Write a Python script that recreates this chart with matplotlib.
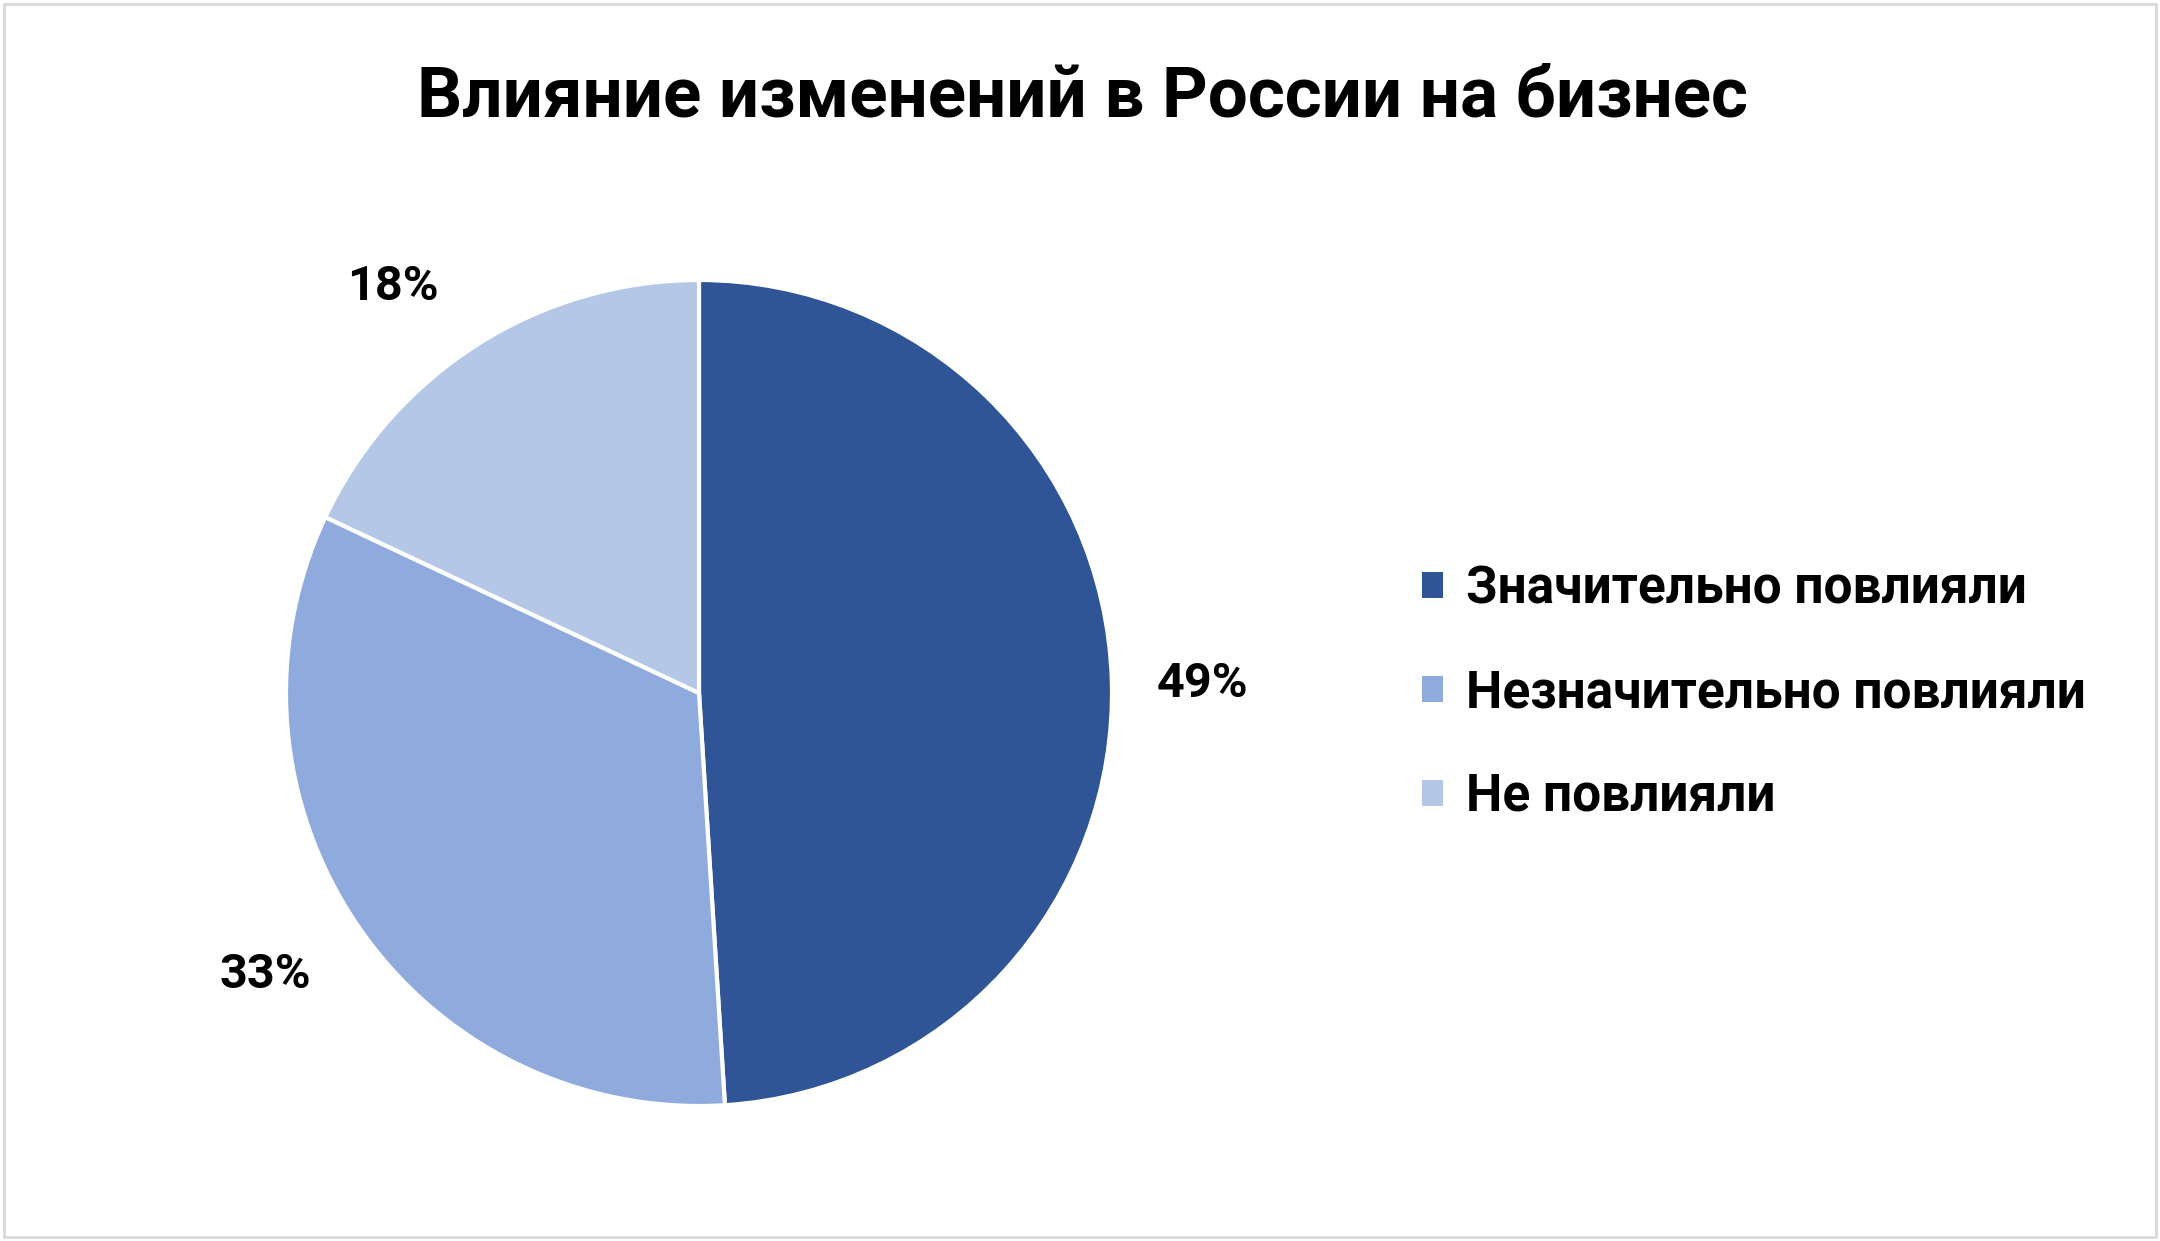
import matplotlib
matplotlib.use("Agg")
import matplotlib.pyplot as plt
from matplotlib.patches import Patch, Rectangle
from matplotlib.transforms import offset_copy

# data
title = "Влияние изменений в России на бизнес"
categories = ["Значительно повлияли", "Незначительно повлияли", "Не повлияли"]
shares = [49, 33, 18]
colors = ["#2F5597", "#8FAADC", "#B4C7E7"]

plt.rcParams['font.family'] = ['Roboto', 'DejaVu Sans']

W, H = 2160, 1241
fig = plt.figure(figsize=(W / 100, H / 100), dpi=100)
fig.patch.set_facecolor("white")

# light grey frame round the chart area
fig.add_artist(Rectangle((0.002, 0.003), 0.996, 0.994, transform=fig.transFigure,
                         facecolor="none", edgecolor="#D9D9D9", linewidth=2))

# pie axes placed in pixels: centre (699, 693 from top), radius 413
cx, cy, r = 699, H - 693, 413
ax = fig.add_axes([(cx - r) / W, (cy - r) / H, 2 * r / W, 2 * r / H])

wedges, texts = ax.pie(shares, colors=colors, startangle=90, counterclock=False,
                       radius=1.0, labels=[f"{v}%" for v in shares],
                       labeldistance=1.23,
                       wedgeprops=dict(edgecolor="white", linewidth=3),
                       textprops=dict(fontsize=35, fontweight="bold", color="black"))
ax.set_xlim(-1, 1)
ax.set_ylim(-1, 1)
ax.set_aspect("equal")
ax.axis("off")

# small nudges (pixels) so labels sit where Excel put them
nudges = [(-4, -7), (-14, 4), (-34, -23)]
for t, (dx, dy) in zip(texts, nudges):
    t.set_horizontalalignment("center")
    t.set_verticalalignment("center")
    t.set_transform(offset_copy(ax.transData, fig=fig, x=dx, y=dy, units="dots"))

fig.text(1082 / W, 1 - 97 / H, title, ha="center", va="center",
         fontsize=51, fontweight="bold", color="black")

handles = [Patch(facecolor=c, edgecolor="none") for c in colors]
leg = fig.legend(handles, categories, loc="center left",
                 bbox_to_anchor=(1376 / W, 1 - 693 / H),
                 frameon=False, handlelength=0.4, handleheight=0.4,
                 handletextpad=0.45, labelspacing=1.05,
                 prop=dict(size=37, weight="bold"))

fig.savefig("out.png", dpi=100, facecolor="white")
